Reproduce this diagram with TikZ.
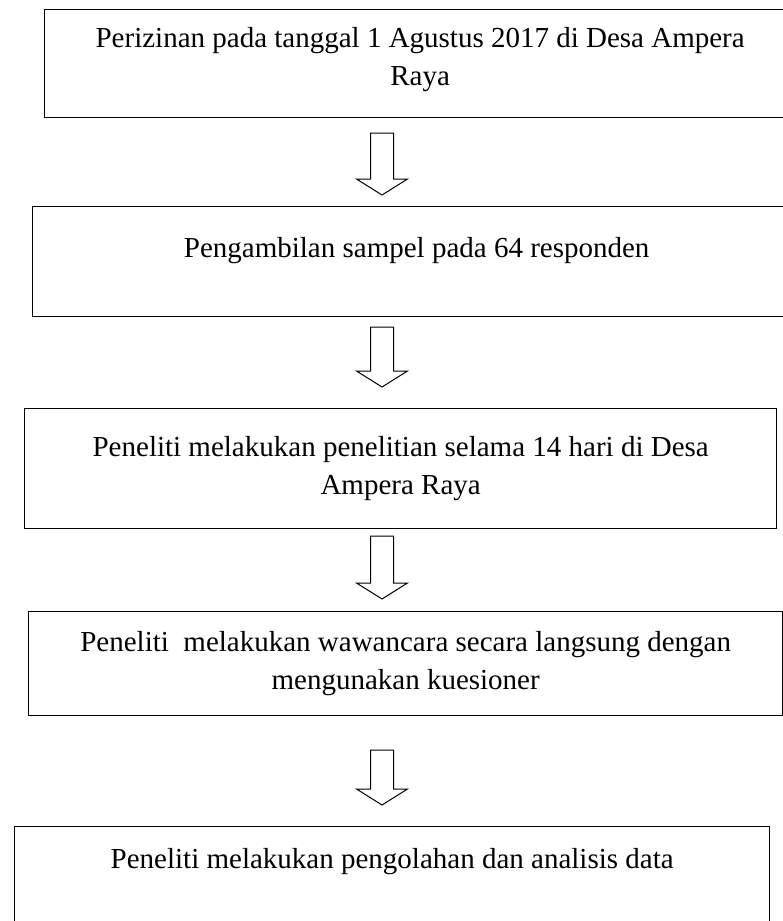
\documentclass[tikz,border=0pt]{standalone}
\usepackage{fontspec}
\setmainfont{Liberation Serif}
\usetikzlibrary{calc}
\tikzset{
	stepbox/.style={draw, line width=1.3pt, align=center, inner sep=0pt,
		anchor=north west, font=\fontsize{29}{38}\selectfont},
	hollow/.style={draw, line width=1pt, line join=miter},
}
% hollow block arrow from top point #1 to tip #2
\newcommand{\hollowarrow}[2]{%
	\draw[hollow] ($(#1)+(-11.5,0)$) -- ($(#2)+(-11.5,-16)$) -- ($(#2)+(-25.5,-16)$)
	-- (#2) -- ($(#2)+(25.5,-16)$) -- ($(#2)+(11.5,-16)$) -- ($(#1)+(11.5,0)$) -- cycle;}
\begin{document}
\begin{tikzpicture}[x=1pt,y=-1pt]
	\useasboundingbox (0,0) rectangle (783,921);
	\node[stepbox, minimum width=751pt, minimum height=108pt, text depth=14pt] (izin) at (44,9)
		{Perizinan pada tanggal 1 Agustus 2017 di Desa Ampera\\Raya};
	\node[stepbox, minimum width=768pt, minimum height=110pt, text depth=28pt] (sampel) at (32,206)
		{Pengambilan sampel pada 64 responden};
	\node[stepbox, minimum width=752pt, minimum height=120pt] (teliti) at (24,408)
		{Peneliti melakukan penelitian selama 14 hari di Desa\\Ampera Raya};
	\node[stepbox, minimum width=754pt, minimum height=104pt] (wawancara) at (28,611)
		{Peneliti\ \ melakukan wawancara secara langsung dengan\\mengunakan kuesioner};
	\node[stepbox, minimum width=755pt, minimum height=108pt, text depth=44pt] (olah) at (14,826)
		{Peneliti melakukan pengolahan dan analisis data};
	\coordinate (a1) at (382,133); \coordinate (a1tip) at (382,195);
	\coordinate (a2) at (382,327); \coordinate (a2tip) at (382,387);
	\coordinate (a3) at (382,536); \coordinate (a3tip) at (382,599);
	\coordinate (a4) at (382,750); \coordinate (a4tip) at (382,805);
	\hollowarrow{a1}{a1tip}
	\hollowarrow{a2}{a2tip}
	\hollowarrow{a3}{a3tip}
	\hollowarrow{a4}{a4tip}
\end{tikzpicture}
\end{document}
